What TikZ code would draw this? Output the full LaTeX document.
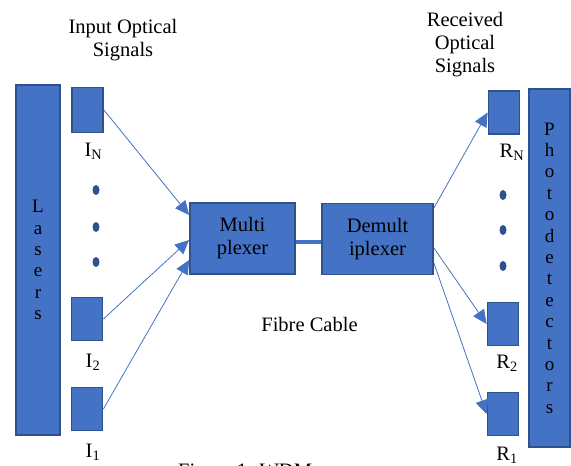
\documentclass[tikz,border=0pt]{standalone}
\usepackage{fontspec}
\setmainfont{Liberation Serif}
\definecolor{BoxBlue}{HTML}{4472C4}
\definecolor{EdgeBlue}{HTML}{2F528F}
\usetikzlibrary{arrows.meta, positioning, calc}

\begin{document}
\begin{tikzpicture}[x=1pt, y=-1pt,
    base/.style={draw=EdgeBlue, fill=BoxBlue, line width=1.8pt, inner sep=0pt},
    bar/.style={base, align=center, font=\fontsize{19}{21.4}\selectfont},
    port/.style={base, minimum width=31pt, minimum height=43pt},
    unit/.style={base, minimum height=71pt, align=center, font=\fontsize{20.5}{23}\selectfont},
    lbl/.style={font=\fontsize{20.5}{23}\selectfont, inner sep=0pt},
    sig/.style={draw=BoxBlue, line width=0.8pt, -{Triangle[length=14pt, width=13pt]}},
    cable/.style={draw=BoxBlue, line width=4pt},
    dotc/.style={fill=EdgeBlue}]

    \useasboundingbox (0,0) rectangle (571,466);

    % Nodes
    \node [bar, minimum width=44pt, minimum height=350pt] (lasers) at (38,260) {L\\a\\s\\e\\r\\s};
    \node [bar, minimum width=41pt, minimum height=358pt] (photo) at (549.5,268) {P\\h\\o\\t\\o\\d\\e\\t\\e\\c\\t\\o\\r\\s};

    \node [port, minimum height=45pt] (inN) at (87.5,110) {};
    \node [port] (in2) at (87,319) {};
    \node [port] (in1) at (87,409) {};
    \node [port] (outN) at (504,112.5) {};
    \node [port] (out2) at (503,324) {};
    \node [port] (out1) at (503,414) {};

    \node [lbl, below=9pt of inN, xshift=6pt] (inNlbl) {I\textsubscript{N}};
    \node [lbl, below=12pt of in2, xshift=6pt] (in2lbl) {I\textsubscript{2}};
    \node [lbl, below=12pt of in1, xshift=6pt] (in1lbl) {I\textsubscript{1}};
    \node [lbl, below=9pt of outN, xshift=8pt] (outNlbl) {R\textsubscript{N}};
    \node [lbl, below=8pt of out2, xshift=4pt] (out2lbl) {R\textsubscript{2}};
    \node [lbl, below=10pt of out1, xshift=4pt] (out1lbl) {R\textsubscript{1}};

    \node [unit, minimum width=105pt] (mux) at (242.5,238.5) {Multi\\plexer};
    \node [unit, minimum width=111pt] (demux) at (377.5,239) {Demult\\iplexer};

    \node [lbl, align=center, anchor=north] (input) at (123,19) {Input Optical\\Signals};
    \node [lbl, align=center, anchor=north] (received) at (465,12) {Received\\Optical\\Signals};
    \node [lbl, anchor=base] (fibre) at (309.5,331) {Fibre Cable};
    \node [lbl, anchor=base west] (caption) at (178,477) {Figure 1: WDM};

    % dots between the ports
    \foreach \y in {190,227,262} \fill[dotc] (96,\y) ellipse (3.5 and 5);
    \foreach \y in {195,230,266} \fill[dotc] (503,\y) ellipse (3.5 and 5);

    % Connectors
    \draw [sig] (inN.east) -- ($(mux.west)+(0,-23.5)$);
    \draw [sig] (in2.east) -- ($(mux.west)+(0,1.5)$);
    \draw [sig] (in1.east) -- ($(mux.west)+(0,21.5)$);
    \draw [cable] ($(mux.east)+(0,3.5)$) -- ($(demux.west)+(0,3)$);
    \draw [sig] ($(demux.east)+(0,-31)$) -- (outN.west);
    \draw [sig] ($(demux.east)+(0,9)$) -- (out2.west);
    \draw [sig] ($(demux.east)+(0,24)$) -- (out1.west);
  \end{tikzpicture}
\end{document}
